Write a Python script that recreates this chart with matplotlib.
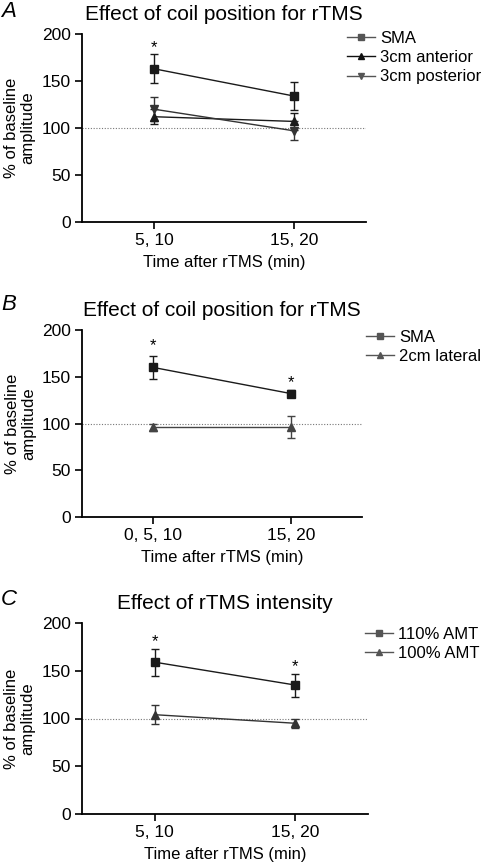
import matplotlib
matplotlib.use('Agg')
import matplotlib.pyplot as plt
from matplotlib.lines import Line2D

plt.rcParams['font.family'] = ['Liberation Sans', 'DejaVu Sans']

# panel A
a_ticks = ['5, 10', '15, 20']
a_sma = [163, 134]
a_sma_err = [15.5, 14.5]
a_ant = [112, 107]
a_ant_err = [8, 9]
a_post = [120, 97]
a_post_err = [13, 10]

# panel B
b_ticks = ['0, 5, 10', '15, 20']
b_sma = [160, 132]
b_sma_err = [12, 4]
b_lat = [96, 96]
b_lat_err = [4, 12]

# panel C
c_ticks = ['5, 10', '15, 20']
c_110 = [159, 135]
c_110_err = [14, 12]
c_100 = [104, 95]
c_100_err = [10, 4.5]

titles = ['Effect of coil position for rTMS', 'Effect of coil position for rTMS',
          'Effect of rTMS intensity']
letters = ['A', 'B', 'C']

fig = plt.figure(figsize=(4.82, 8.64), dpi=100)
W, H = 482.0, 864.0


def make_axes(left, right, top, bottom):
    return fig.add_axes([left / W, 1 - bottom / H, (right - left) / W, (bottom - top) / H])


def style(ax, ticks, title, stars):
    ax.set_xlim(-0.515, 1.515)
    ax.set_ylim(0, 200)
    ax.set_yticks([0, 50, 100, 150, 200])
    ax.set_xticks([0, 1])
    ax.set_xticklabels(ticks)
    for s in ['top', 'right']:
        ax.spines[s].set_visible(False)
    for s in ['left', 'bottom']:
        ax.spines[s].set_linewidth(1.3)
    ax.tick_params(direction='out', length=5, width=1.2, labelsize=12.5, pad=3)
    ax.axhline(100, color='#777777', lw=0.8, ls=(0, (1, 1.5)), zorder=0)
    ax.set_xlabel('Time after rTMS (min)', fontsize=12, labelpad=5)
    ax.set_ylabel('% of baseline\namplitude', fontsize=12, linespacing=1.1)
    ax.yaxis.set_label_coords(-0.165, 0.5)
    ax.set_title(title, fontsize=15, pad=10)
    for x, y in stars:
        ax.text(x, y, '*', ha='center', va='center', fontsize=12)


def series(ax, y, err, marker, color='#1a1a1a', ms=5.2):
    ax.errorbar([0, 1], y, yerr=err, marker=marker, color=color, ms=ms,
                lw=1.0, elinewidth=1.0, capsize=2.8, capthick=1.0)


def legend(ax, x, y, items):
    handles = [Line2D([], [], color=c, marker=m, ms=4, lw=1.0) for m, c, _ in items]
    labels = [t for _, _, t in items]
    ax.legend(handles, labels, loc='upper left', bbox_to_anchor=(x / W, 1 - y / H),
              bbox_transform=fig.transFigure, frameon=False, fontsize=12,
              handlelength=1.7, handletextpad=0.3, labelspacing=0.25,
              borderpad=0, borderaxespad=0)


def letter(x, y, t):
    fig.text(x / W, 1 - y / H, t, fontsize=16, style='italic', ha='left', va='top')


# A
ax = make_axes(82, 366, 34, 222)
series(ax, a_sma, a_sma_err, 's')
series(ax, a_ant, a_ant_err, '^')
series(ax, a_post, a_post_err, 'v', color='#333333')
style(ax, a_ticks, titles[0], [(0, 186)])
legend(ax, 347, 31, [('s', '#555555', 'SMA'), ('^', '#111111', '3cm anterior'),
                     ('v', '#555555', '3cm posterior')])
letter(1, 1, letters[0])

# B
ax = make_axes(82, 362, 330, 517)
series(ax, b_sma, b_sma_err, 's')
series(ax, b_lat, b_lat_err, '^', color='#444444')
style(ax, b_ticks, titles[1], [(0, 183), (1, 144)])
legend(ax, 366, 330, [('s', '#555555', 'SMA'), ('^', '#555555', '2cm lateral')])
letter(1, 294, letters[1])

# C
ax = make_axes(82, 368, 623, 814)
series(ax, c_110, c_110_err, 's')
series(ax, c_100, c_100_err, '^', color='#333333')
style(ax, c_ticks, titles[2], [(0, 181), (1, 154)])
legend(ax, 365, 627, [('s', '#555555', '110% AMT'), ('^', '#555555', '100% AMT')])
letter(1, 589, letters[2])

fig.savefig('out.png', dpi=100)
